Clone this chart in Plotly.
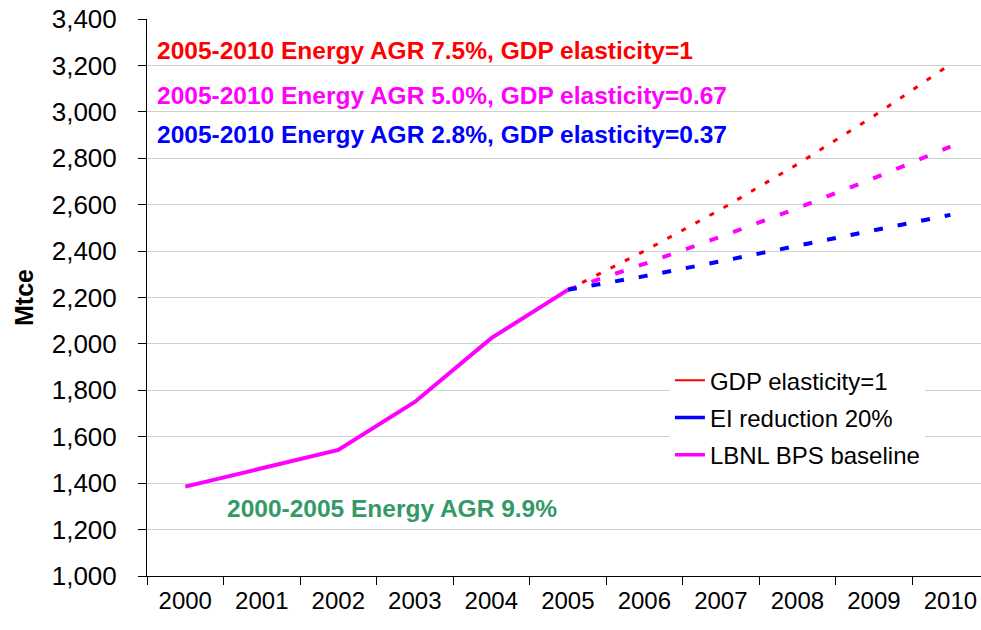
import plotly.graph_objects as go

# data
years = ["2000", "2001", "2002", "2003", "2004", "2005",
         "2006", "2007", "2008", "2009", "2010"]
hist_years = years[:6]
proj_years = years[5:]

baseline_hist = [1385, 1466, 1543, 1750, 2025, 2233]
gdp_elast_1 = [2233, 2400, 2580, 2774, 2982, 3205]
lbnl_baseline = [2233, 2345, 2462, 2585, 2714, 2850]
ei_reduction = [2233, 2292, 2356, 2422, 2489, 2556]

red = "#FF0000"
magenta = "#FF00FF"
blue = "#0000FF"
green = "#339966"
font_name = "Liberation Sans, Arial, sans-serif"

fig = go.Figure()

# projected lines
fig.add_trace(go.Scatter(x=proj_years, y=gdp_elast_1, mode="lines",
                         line=dict(color=red, width=3, dash="5px,11px"),
                         showlegend=False))
fig.add_trace(go.Scatter(x=proj_years, y=lbnl_baseline, mode="lines",
                         line=dict(color=magenta, width=4, dash="9px,16px"),
                         showlegend=False))
fig.add_trace(go.Scatter(x=proj_years, y=ei_reduction, mode="lines",
                         line=dict(color=blue, width=4, dash="9px,15px"),
                         showlegend=False))
# historical
fig.add_trace(go.Scatter(x=hist_years, y=baseline_hist, mode="lines",
                         line=dict(color=magenta, width=4),
                         showlegend=False))

# legend entries (solid samples like the original)
legend_items = [("GDP elasticity=1", red, 2),
                ("EI reduction 20%", blue, 3.5),
                ("LBNL BPS baseline", magenta, 3.5)]
for name, col, w in legend_items:
    fig.add_trace(go.Scatter(x=[None], y=[None], mode="lines", name=name,
                             legendgroup=name,
                             line=dict(color=col, width=w)))

# text labels
notes = [
    ("2005-2010 Energy AGR 7.5%, GDP elasticity=1", red, 0.0096, 0.943),
    ("2005-2010 Energy AGR 5.0%, GDP elasticity=0.67", magenta, 0.0096, 0.862),
    ("2005-2010 Energy AGR 2.8%, GDP elasticity=0.37", blue, 0.0096, 0.792),
    ("2000-2005 Energy AGR 9.9%", green, 0.094, 0.122),
]
for txt, col, x, y in notes:
    fig.add_annotation(text=f"<b>{txt}</b>", xref="paper", yref="paper",
                       x=x, y=y, xanchor="left", yanchor="middle",
                       showarrow=False,
                       font=dict(color=col, size=24.5, family=font_name))

fig.update_xaxes(
    type="category", categoryorder="array", categoryarray=years,
    range=[-0.5, 10.4],
    tickson="boundaries",
    ticks="outside", ticklen=8, tickcolor="black",
    showline=True, linecolor="black", linewidth=1,
    showgrid=False, automargin=False,
    tickfont=dict(size=24, color="black", family=font_name),
    ticklabelstandoff=3,
)
fig.update_yaxes(
    range=[1000, 3400], dtick=200, tickformat=",",
    ticks="outside", ticklen=8, tickcolor="black",
    showline=True, linecolor="black", linewidth=1,
    showgrid=True, gridcolor="#D0D0D0", gridwidth=1,
    zeroline=False, automargin=False,
    ticklabeloverflow="allow",
    tickfont=dict(size=26, color="black", family=font_name),
    ticklabelstandoff=16,
    title=dict(text="<b>Mtce</b>", standoff=10,
               font=dict(size=25, color="black", family=font_name)),
)

fig.update_layout(
    width=981, height=630,
    margin=dict(l=147, r=0, t=19, b=54),
    plot_bgcolor="white", paper_bgcolor="white",
    font=dict(family=font_name, color="black"),
    legend=dict(x=0.627, y=0.391, xanchor="left", yanchor="top",
                bgcolor="white", borderwidth=0,
                font=dict(size=24, color="black", family=font_name),
                tracegroupgap=3),
)

# drop the default page margin so the figure fills the window
fig.write_html("out.html", config={"displayModeBar": False},
               post_script="document.body.style.margin='0';")
